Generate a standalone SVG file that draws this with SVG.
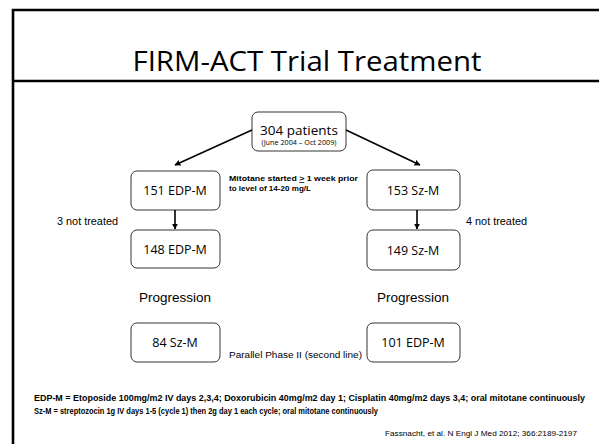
<svg xmlns="http://www.w3.org/2000/svg" width="599" height="444" viewBox="0 0 599 444">
  <defs>
    <marker id="arrow" viewBox="0 0 10 10" refX="9" refY="5" markerWidth="6" markerHeight="6" orient="auto" markerUnits="userSpaceOnUse">
      <path d="M0,0 L10,5 L0,10 z" fill="#000"/>
    </marker>
    <style>
      .frame { stroke: #000; stroke-width: 2.6; fill: none; }
      .box { fill: #fff; stroke: #000; stroke-width: 0.8; }
      .btxt { font-family: "Open Sans", "Liberation Sans", sans-serif; font-size: 12.5px; text-anchor: middle; fill: #000; }
      .lbl { font-family: "Liberation Sans", Arial, sans-serif; font-size: 10px; fill: #000; }
      .small { font-size: 8.5px; }
      .cite { font-size: 7.3px; }
      .prog { font-family: "Liberation Sans", Arial, sans-serif; font-size: 13.5px; text-anchor: middle; fill: #000; }
      .note { font-family: "Liberation Sans", Arial, sans-serif; font-size: 7.5px; font-weight: bold; fill: #000; }
      .foot { font-family: "Liberation Sans", Arial, sans-serif; font-size: 8.2px; font-weight: bold; fill: #000; }
      .conn { stroke: #000; stroke-width: 1.6; fill: none; marker-end: url(#arrow); }
    </style>
  </defs>
  <rect width="599" height="444" fill="#fff"/>

  <!-- slide frame and title bar -->
  <g id="frame">
    <path class="frame" d="M13,444 V10 H599"/>
    <path class="frame" d="M13,81 H599"/>
    <text x="307" y="71" font-family="Open Sans, Liberation Sans, sans-serif" font-size="27" text-anchor="middle" textLength="349" lengthAdjust="spacingAndGlyphs">FIRM-ACT Trial Treatment</text>
  </g>

  <!-- connectors -->
  <g id="connectors">
    <line class="conn" x1="252" y1="130" x2="175" y2="165"/>
    <line class="conn" x1="346" y1="130" x2="420" y2="165"/>
    <line class="conn" x1="175" y1="210" x2="175" y2="229"/>
    <line class="conn" x1="417" y1="210" x2="417" y2="229"/>
  </g>

  <g id="n304">
    <rect class="box" x="252" y="112" width="94" height="39" rx="6"/>
    <text class="btxt" x="299" y="135" style="font-size:13.5px">304 patients</text>
    <text x="299" y="145" font-family="Open Sans, Liberation Sans, sans-serif" font-size="6.5" text-anchor="middle" textLength="75" lengthAdjust="spacingAndGlyphs">(June 2004 – Oct 2009)</text>
  </g>

  <g id="n151">
    <rect class="box" x="131" y="171" width="89" height="39" rx="6"/>
    <text class="btxt" x="175" y="195">151 EDP-M</text>
  </g>

  <g id="n153">
    <rect class="box" x="367" y="170" width="93" height="40" rx="6"/>
    <text class="btxt" x="413" y="195">153 Sz-M</text>
  </g>

  <g id="n148">
    <rect class="box" x="131" y="230" width="89" height="38" rx="6"/>
    <text class="btxt" x="175" y="254">148 EDP-M</text>
  </g>

  <g id="n149">
    <rect class="box" x="367" y="230" width="93" height="40" rx="6"/>
    <text class="btxt" x="413" y="255">149 Sz-M</text>
  </g>

  <g id="n84">
    <rect class="box" x="131" y="323" width="89" height="39" rx="6"/>
    <text class="btxt" x="175" y="347">84 Sz-M</text>
  </g>

  <g id="n101">
    <rect class="box" x="367" y="323" width="93" height="39" rx="6"/>
    <text class="btxt" x="413" y="347">101 EDP-M</text>
  </g>

  <!-- labels -->
  <g id="labels">
    <text class="lbl" x="57" y="225" textLength="61" lengthAdjust="spacingAndGlyphs">3 not treated</text>
    <text class="lbl" x="466" y="225" textLength="61" lengthAdjust="spacingAndGlyphs">4 not treated</text>
    <text class="note" x="229" y="181" textLength="129" lengthAdjust="spacingAndGlyphs">Mitotane started <tspan text-decoration="underline">&gt;</tspan> 1 week prior</text>
    <text class="note" x="229" y="191" textLength="82" lengthAdjust="spacingAndGlyphs">to level of 14-20 mg/L</text>
    <text class="prog" x="175" y="302">Progression</text>
    <text class="prog" x="413" y="302">Progression</text>
    <text class="lbl small" x="229" y="358" textLength="133" lengthAdjust="spacingAndGlyphs">Parallel Phase II (second line)</text>
  </g>

  <!-- footnotes -->
  <g id="footnotes">
    <text class="foot" x="34" y="401" textLength="551" lengthAdjust="spacingAndGlyphs">EDP-M = Etoposide 100mg/m2 IV days 2,3,4; Doxorubicin 40mg/m2 day 1; Cisplatin 40mg/m2 days 3,4; oral mitotane continuously</text>
    <text class="foot" x="34" y="414" textLength="344" lengthAdjust="spacingAndGlyphs">Sz-M = streptozocin 1g IV days 1-5 (cycle 1) then 2g day 1 each cycle; oral mitotane continuously</text>
    <text class="lbl cite" x="385" y="436" textLength="192" lengthAdjust="spacingAndGlyphs">Fassnacht, et al. N Engl J Med 2012; 366:2189-2197</text>
  </g>
</svg>
